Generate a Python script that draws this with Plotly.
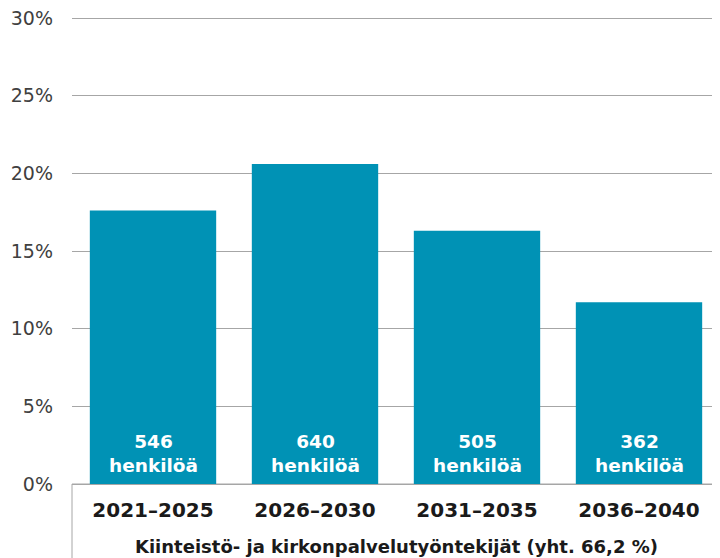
import plotly.graph_objects as go

categories = ["2021–2025", "2026–2030", "2031–2035", "2036–2040"]
shares = [17.6, 20.6, 16.3, 11.7]
persons = [546, 640, 505, 362]
y_ticks = [0, 5, 10, 15, 20, 25, 30]
y_tick_labels = ["0%", "5%", "10%", "15%", "20%", "25%", "30%"]
group_title = "Kiinteistö- ja kirkonpalvelutyöntekijät (yht. 66,2 %)"

BAR = "#0092B5"
FONT = "DejaVu Sans"

fig = go.Figure()
fig.add_trace(go.Bar(x=categories, y=shares, marker=dict(color=BAR, line=dict(width=0)),
                     hoverinfo="skip"))

for c, p in zip(categories, persons):
    fig.add_annotation(x=c, y=0, xref="x", yref="y", yanchor="bottom", yshift=6,
                       text=f"<b>{p}<br>henkilöä</b>", showarrow=False,
                       font=dict(family=FONT, size=18.5, color="white"), align="center")

# plot area height = 550 - 2 - 74 = 474 px
fig.add_annotation(x=0.5, xref="paper", y=-62 / 474, yref="paper", yanchor="middle",
                   text=f"<b>{group_title}</b>", showarrow=False,
                   font=dict(family=FONT, size=18, color="#1a1a1a"))

fig.add_shape(type="rect", xref="paper", yref="paper", x0=0, x1=1.02, y0=-0.3, y1=0,
              line=dict(color="#A6A6A6", width=1), fillcolor="rgba(0,0,0,0)", layer="below")

fig.update_layout(
    width=712, height=550,
    margin=dict(l=64, r=0, t=2, b=74, autoexpand=False),
    paper_bgcolor="white", plot_bgcolor="white",
    showlegend=False, bargap=0.22,
    font=dict(family=FONT, color="#404040"),
    xaxis=dict(showgrid=False, showline=False, ticks="", zeroline=False, automargin=False,
               tickfont=dict(family=FONT, size=20, color="#1a1a1a", weight="bold"),
               ticklabelstandoff=12),
    yaxis=dict(range=[0, 474 / 15.533], tickvals=y_ticks, ticktext=y_tick_labels, automargin=False,
               showgrid=True, gridcolor="#A6A6A6", gridwidth=1,
               zeroline=True, zerolinecolor="#A6A6A6", zerolinewidth=1,
               showline=False, ticks="", ticklabelstandoff=18, ticklabeloverflow="allow",
               tickfont=dict(family=FONT, size=19, color="#404040")),
)

fig.write_html("out.html")
